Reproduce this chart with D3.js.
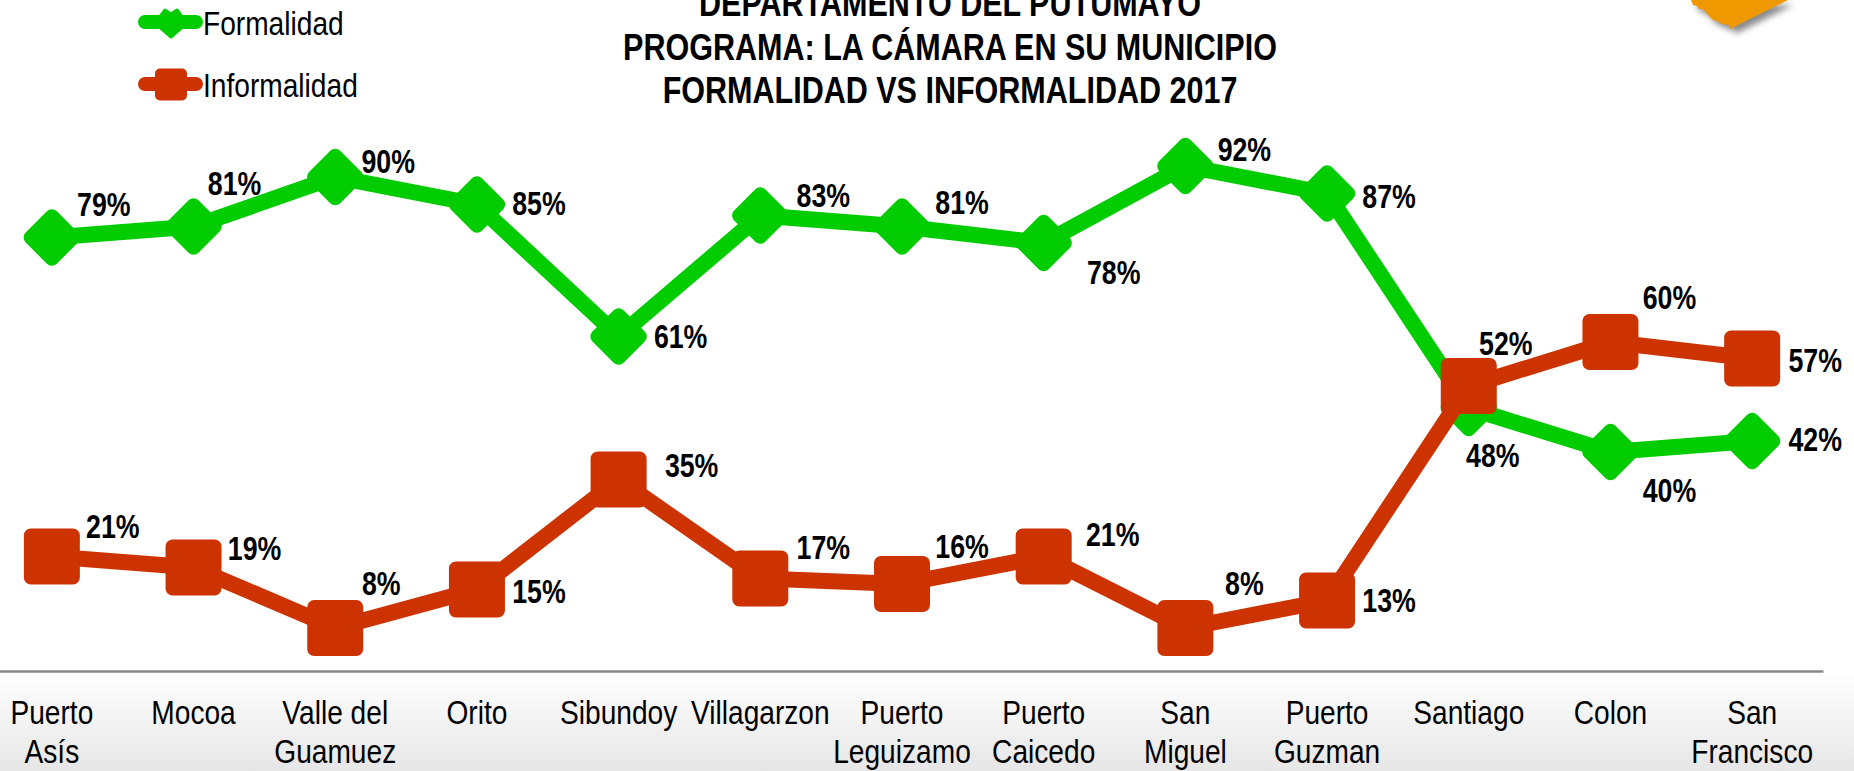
<!DOCTYPE html>
<html>
<head>
<meta charset="utf-8">
<script src="https://cdn.jsdelivr.net/npm/d3@7"></script>
<style>
html, body { margin: 0; padding: 0; background: #fff; overflow: hidden; }
text { font-family: "Liberation Sans", sans-serif; fill: #000; }
</style>
</head>
<body>
<div id="chart"></div>
<script>
var categories = ["Puerto Asís", "Mocoa", "Valle del Guamuez", "Orito", "Sibundoy", "Villagarzon",
  "Puerto Leguizamo", "Puerto Caicedo", "San Miguel", "Puerto Guzman", "Santiago", "Colon", "San Francisco"];
var formalidad = [79, 81, 90, 85, 61, 83, 81, 78, 92, 87, 48, 40, 42];
var informalidad = [21, 19, 8, 15, 35, 17, 16, 21, 8, 13, 52, 60, 57];
var titleLines = ["DEPARTAMENTO DEL PUTUMAYO", "PROGRAMA: LA CÁMARA EN SU MUNICIPIO", "FORMALIDAD VS INFORMALIDAD 2017"];

// where each value label sits relative to its marker
var formalidadOffsets = [[52,-33],[41,-43],[53,-16],[62,-1],[62,0],[63,-20],[60,-24],[70,29],[59,-17],[62,3],[24,47],[59,38],[63,-2]];
var informalidadOffsets = [[61,-30],[61,-19],[46,-45],[62,2],[73,-14],[63,-31],[60,-38],[69,-22],[59,-45],[62,0],[37,-43],[59,-45],[63,2]];

var width = 1854,
    height = 771;
var green = "#00cc00",
    red = "#cc3300";
// no narrow face installed, so squeeze the regular one
var narrow = 0.84,
    narrowBold = 0.81;

var svg = d3.select("#chart").append("svg")
  .attr("width", width)
  .attr("height", height)
  .style("display", "block");

var defs = svg.append("defs");
var grad = defs.append("linearGradient")
  .attr("id", "floor")
  .attr("x1", 0).attr("y1", 0).attr("x2", 0).attr("y2", 1);
grad.append("stop").attr("offset", "0%").attr("stop-color", "#ffffff");
grad.append("stop").attr("offset", "100%").attr("stop-color", "#e6e6e6");

var blur = defs.append("filter").attr("id", "logoShadow")
  .attr("x", "-20%").attr("y", "-20%").attr("width", "140%").attr("height", "160%");
blur.append("feGaussianBlur").attr("stdDeviation", 3);

var x = d3.scaleBand().domain(categories).range([-19, 1823]);
var y = d3.scaleLinear().domain([0, 100]).range([672, 122]);
var cx = function(i) { return x(categories[i]) + x.bandwidth() / 2; };

svg.append("rect")
  .attr("x", 0).attr("y", 672)
  .attr("width", width).attr("height", height - 672)
  .attr("fill", "url(#floor)");

// logo corner
var logo = "M1691,0 L1693,5 L1697,6 L1699,9 L1703,9 L1709,16 L1713,20 L1717,21 L1722,24 L1729,25 L1730,29 L1788,0 Z";
svg.append("path").attr("d", logo).attr("transform", "translate(5,5)")
  .attr("fill", "#888").attr("filter", "url(#logoShadow)");
svg.append("path").attr("d", logo).attr("fill", "#f09800");

// axis
var axis = svg.append("g")
  .attr("transform", "translate(0,671)")
  .call(d3.axisBottom(x).tickSize(0).tickPadding(0));
axis.select(".domain").attr("stroke", "#888").attr("stroke-width", 2.5);
axis.selectAll("text").each(function(d) {
  var k = d.lastIndexOf(" ");
  var lines = k < 0 ? [d] : [d.slice(0, k), d.slice(k + 1)];
  var t = d3.select(this).text(null).attr("y", 0).attr("dy", null)
    .attr("font-size", 33.5).attr("fill", "#000")
    .attr("transform", "scale(" + narrow + ",1)");
  lines.forEach(function(l, i) {
    t.append("tspan").attr("x", 0).attr("y", 53 + i * 39.5).text(l);
  });
});

function drawSeries(values, color, shape) {
  var g = svg.append("g");
  var line = d3.line()
    .x(function(d, i) { return cx(i); })
    .y(function(d) { return y(d); });
  g.append("path")
    .attr("d", line(values))
    .attr("fill", "none")
    .attr("stroke", color)
    .attr("stroke-width", 16)
    .attr("stroke-linejoin", "round");
  g.selectAll(".mark")
    .data(values)
    .enter()
    .append("path")
    .attr("d", shape.path)
    .attr("transform", function(d, i) { return "translate(" + cx(i) + "," + y(d) + ")" + shape.rotate; })
    .attr("fill", color)
    .attr("stroke", color)
    .attr("stroke-width", shape.round)
    .attr("stroke-linejoin", "round");
}

function drawLabels(values, offsets) {
  svg.append("g").selectAll("text")
    .data(values)
    .enter()
    .append("text")
    .attr("transform", function(d, i) {
      return "translate(" + (cx(i) + offsets[i][0]) + "," + (y(d) + offsets[i][1]) + ") scale(" + narrowBold + ",1)";
    })
    .attr("dy", "0.35em")
    .attr("text-anchor", "middle")
    .attr("font-size", 33)
    .attr("font-weight", "bold")
    .text(function(d) { return d + "%"; });
}

var square = { path: d3.symbol().type(d3.symbolSquare).size(42 * 42)(), rotate: "", round: 14 };
var diamond = { path: d3.symbol().type(d3.symbolSquare).size(30 * 30)(), rotate: " rotate(45)", round: 14 };

drawSeries(formalidad, green, diamond);
drawSeries(informalidad, red, square);
drawLabels(formalidad, formalidadOffsets);
drawLabels(informalidad, informalidadOffsets);

// title
svg.append("g").selectAll("text")
  .data(titleLines)
  .enter()
  .append("text")
  .attr("transform", function(d, i) { return "translate(950," + (16 + i * 43.5) + ") scale(0.825,1)"; })
  .attr("text-anchor", "middle")
  .attr("font-size", 37)
  .attr("font-weight", "bold")
  .text(function(d) { return d; });

// legend, the green glyph has a notch in its top in the original
var legendItems = [
  { name: "Formalidad", color: green, y: 22, path: "M-6,-13L0,-9L6,-13L16,0L0,14L-16,0Z", round: 3, top: 23 },
  { name: "Informalidad", color: red, y: 84, path: d3.symbol().type(d3.symbolSquare).size(22 * 22)(), round: 10, top: 84.5 }
];
var legend = svg.append("g").selectAll("g").data(legendItems).enter().append("g");
legend.append("line")
  .attr("x1", 145).attr("x2", 196)
  .attr("y1", function(d) { return d.y; })
  .attr("y2", function(d) { return d.y; })
  .attr("stroke", function(d) { return d.color; })
  .attr("stroke-width", 14)
  .attr("stroke-linecap", "round");
legend.append("path")
  .attr("d", function(d) { return d.path; })
  .attr("transform", function(d) { return "translate(171," + d.top + ")"; })
  .attr("fill", function(d) { return d.color; })
  .attr("stroke", function(d) { return d.color; })
  .attr("stroke-width", function(d) { return d.round; })
  .attr("stroke-linejoin", "round");
legend.append("text")
  .attr("transform", function(d) { return "translate(203," + (d.y + 13) + ") scale(" + narrow + ",1)"; })
  .attr("font-size", 33.5)
  .text(function(d) { return d.name; });
</script>
</body>
</html>
